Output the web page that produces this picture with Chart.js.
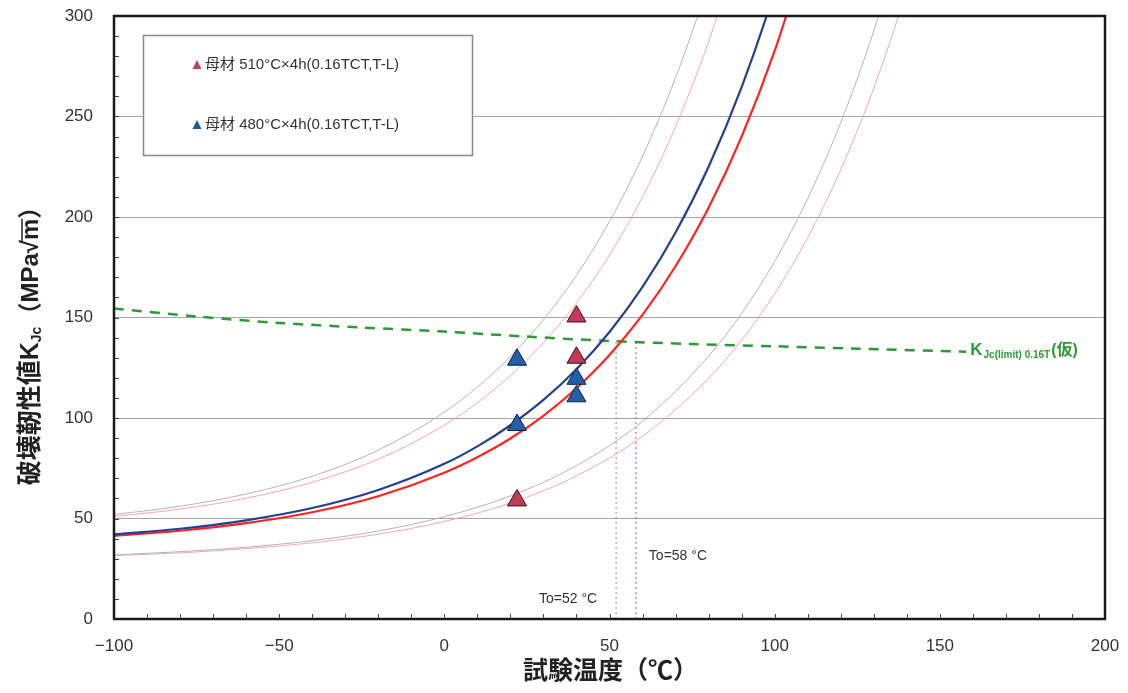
<!DOCTYPE html>
<html>
<head>
<meta charset="utf-8">
<script src="https://cdn.jsdelivr.net/npm/chart.js@4.4.0/dist/chart.umd.min.js"></script>
<style>
  html, body { margin: 0; padding: 0; background: #fff; }
  #wrap { width: 1128px; height: 693px; }
</style>
</head>
<body>
<div id="wrap"><canvas id="myChart" width="1128" height="693"></canvas></div>
<script>
// axis ticks
var xTicks = [-100, -50, 0, 50, 100, 150, 200];
var yTicks = [0, 50, 100, 150, 200, 250, 300];

// master curves (median)
var tMed = [-100, -80, -60, -40, -20, 0, 10, 20, 30, 40, 50, 60, 70, 80, 90, 100, 110];
var kMed480 = [42.1, 44.9, 49.1, 55.2, 64.2, 77.2, 85.9, 96.4, 109.0, 124.3, 142.8, 165.2, 192.3, 225.0, 264.6, 312.5, 370];
var kMed510 = [41.4, 43.9, 47.7, 53.1, 61.1, 72.8, 80.5, 89.8, 101.1, 114.8, 131.3, 151.3, 175.5, 204.6, 239.9, 282.6, 334.2];

// upper bounds
var tUp = [-100, -80, -60, -40, -20, 0, 10, 20, 30, 40, 50, 60, 70, 80, 90];
var kUp480 = [52.0, 56.1, 62.2, 71.0, 84.0, 102.9, 115.4, 130.6, 148.9, 171.0, 197.8, 230.2, 269.4, 316.7, 374];
var kUp510 = [51.0, 54.7, 60.1, 68.0, 79.5, 96.4, 107.6, 121.1, 137.5, 157.2, 181.1, 210.0, 245.0, 287.2, 338.3];

// lower bounds
var tLo = [-100, -80, -60, -40, -20, 0, 20, 40, 60, 80, 90, 100, 110, 120, 130, 140, 150];
var kLo480 = [31.9, 33.5, 35.7, 39.0, 43.8, 50.9, 61.2, 76.3, 98.4, 130.7, 152.1, 177.9, 209.2, 247.0, 292.6, 348.0, 415];
var kLo510 = [31.6, 32.9, 35.0, 37.9, 42.2, 48.5, 57.7, 71.2, 90.9, 119.7, 138.8, 161.8, 189.7, 223.4, 264.1, 313.4, 373];

// KJc(limit) 0.16T
var tLimit = [-100, -75, -50, -25, 0, 25, 50, 75, 100, 125, 158];
var kLimit = [154.5, 150.5, 147.3, 145, 143, 140.5, 138.3, 136.8, 135.7, 134.5, 133];

// test results
var t510 = [22, 40, 40];
var k510 = [59, 130, 150.5];
var t480 = [22, 22, 40, 40];
var k480 = [96.5, 129, 119.5, 110.8];

// reference temperatures
var toTemps = [52, 58];
var toTop = [138.2, 137.8];

var labels = ['母材 510°C×4h(0.16TCT,T-L)', '母材 480°C×4h(0.16TCT,T-L)'];

function pts(xs, ys) {
    return xs.map(function(x, i) { return {x: x, y: ys[i]}; });
}

function curve(xs, ys, color, width, order) {
    return {
        data: pts(xs, ys),
        borderColor: color,
        borderWidth: width,
        pointRadius: 0,
        fill: false,
        cubicInterpolationMode: 'monotone',
        order: order
    };
}

var sansJP = "'Liberation Sans', 'Noto Sans CJK JP', sans-serif";

var decor = {
    id: 'decor',
    afterDraw: function(chart) {
        var c = chart.ctx;
        var a = chart.chartArea;
        var xs = chart.scales.x, ys = chart.scales.y;
        c.save();

        // small ticks inside the frame
        c.strokeStyle = '#444';
        c.lineWidth = 1;
        c.beginPath();
        for (var v = -90; v < 200; v += 10) {
            var px = Math.round(xs.getPixelForValue(v)) + 0.5;
            c.moveTo(px, a.bottom);
            c.lineTo(px, a.bottom - 5);
        }
        for (var w = 10; w < 300; w += 10) {
            var py = Math.round(ys.getPixelForValue(w)) + 0.5;
            c.moveTo(a.left, py);
            c.lineTo(a.left + 5, py);
        }
        c.stroke();

        // frame
        c.strokeStyle = '#1a1a1a';
        c.lineWidth = 2.5;
        c.strokeRect(a.left, a.top, a.right - a.left, a.bottom - a.top);

        // legend box
        c.fillStyle = '#fff';
        c.fillRect(143, 35, 329, 120);
        c.strokeStyle = '#8a8a8a';
        c.lineWidth = 1.5;
        c.strokeRect(143.5, 35.5, 329, 120);
        var legCols = ['#c0405e', '#1f5a8a'];
        [65, 125].forEach(function(ly, i) {
            c.fillStyle = legCols[i];
            c.beginPath();
            c.moveTo(197, ly - 5);
            c.lineTo(201.5, ly + 4);
            c.lineTo(192.5, ly + 4);
            c.closePath();
            c.fill();
            c.fillStyle = '#333';
            c.font = '15px ' + sansJP;
            c.textBaseline = 'middle';
            c.textAlign = 'left';
            c.fillText(labels[i], 205, ly);
        });

        // To labels
        c.fillStyle = '#333';
        c.font = '14px ' + sansJP;
        c.textAlign = 'center';
        c.fillText('To=52 °C', xs.getPixelForValue(toTemps[0]) - 48, 599);
        c.fillText('To=58 °C', xs.getPixelForValue(toTemps[1]) + 42, 556);

        // KJc(limit) label
        var gx = xs.getPixelForValue(tLimit[tLimit.length - 1]) + 4;
        var gy = ys.getPixelForValue(kLimit[kLimit.length - 1]) - 1;
        c.fillStyle = '#2e9a35';
        c.textAlign = 'left';
        c.font = 'bold 17px ' + sansJP;
        c.fillText('K', gx, gy);
        gx += c.measureText('K').width + 1;
        c.font = 'bold 10px ' + sansJP;
        c.fillText('Jc(limit) 0.16T', gx, gy + 5);
        gx += c.measureText('Jc(limit) 0.16T').width + 1;
        c.font = 'bold 16px ' + sansJP;
        c.fillText('(仮)', gx, gy);

        // x axis title
        c.fillStyle = '#222';
        c.font = 'bold 25px ' + sansJP;
        c.textAlign = 'center';
        c.fillText('試験温度（℃）', (a.left + a.right) / 2 + 1, 672);

        // y axis title
        c.translate(31, 340);
        c.rotate(-Math.PI / 2);
        var parts = [
            ['破壊靭性値K', 'bold 25px ', 0],
            ['Jc', 'bold 14px ', 6],
            ['（MPa√', 'bold 24px ', 0],
            ['m）', 'bold 24px ', 0]
        ];
        var total = 0;
        parts.forEach(function(p) { c.font = p[1] + sansJP; total += c.measureText(p[0]).width; });
        var tx = -total / 2;
        c.textAlign = 'left';
        parts.forEach(function(p, i) {
            c.font = p[1] + sansJP;
            var wd = c.measureText(p[0]).width;
            c.fillText(p[0], tx, p[2]);
            if (i === 3) {
                var mw = c.measureText('m').width;
                c.lineWidth = 1.5;
                c.strokeStyle = '#222';
                c.beginPath();
                c.moveTo(tx - 2, -9);
                c.lineTo(tx + mw, -9);
                c.stroke();
            }
            tx += wd;
        });
        c.restore();
    }
};

var ctx = document.getElementById('myChart').getContext('2d');
var chart = new Chart(ctx, {
    type: 'line',
    data: {
        datasets: [
            {
                label: labels[0],
                type: 'scatter',
                data: pts(t510, k510),
                pointStyle: 'triangle',
                pointRadius: 11,
                backgroundColor: '#c23a58',
                borderColor: '#3a1020',
                borderWidth: 1,
                order: 0
            },
            {
                label: labels[1],
                type: 'scatter',
                data: pts(t480, k480),
                pointStyle: 'triangle',
                pointRadius: 11,
                backgroundColor: '#2060a8',
                borderColor: '#0c2040',
                borderWidth: 1,
                order: 0
            },
            curve(tMed, kMed480, '#23418e', 2.2, 2),
            curve(tMed, kMed510, '#ff2222', 2.2, 2),
            curve(tUp, kUp480, '#b4b4b4', 1, 4),
            curve(tUp, kUp510, '#f4a6b6', 1, 4),
            curve(tLo, kLo480, '#b4b4b4', 1, 4),
            curve(tLo, kLo510, '#f4a6b6', 1, 4),
            {
                data: pts(tLimit, kLimit),
                borderColor: '#2e9a35',
                borderWidth: 2.5,
                borderDash: [10, 8],
                pointRadius: 0,
                fill: false,
                tension: 0.3,
                order: 3
            },
            {
                data: pts([toTemps[0], toTemps[0]], [0, toTop[0]]),
                borderColor: '#8a8a9a',
                borderWidth: 1,
                borderDash: [2, 3],
                pointRadius: 0,
                order: 5
            },
            {
                data: pts([toTemps[1], toTemps[1]], [0, toTop[1]]),
                borderColor: '#e8607a',
                borderWidth: 1.2,
                borderDash: [2, 3],
                pointRadius: 0,
                order: 5
            }
        ]
    },
    options: {
        responsive: false,
        animation: false,
        layout: { padding: { top: 16, right: 23, left: 0, bottom: 0 } },
        plugins: {
            legend: { display: false },
            tooltip: { enabled: false }
        },
        scales: {
            x: {
                type: 'linear',
                min: -100,
                max: 200,
                afterFit: function(s) { s.height = 74; s.paddingLeft = 0; s.paddingRight = 0; },
                afterBuildTicks: function(s) { s.ticks = xTicks.map(function(v) { return {value: v}; }); },
                ticks: {
                    padding: 9,
                    maxRotation: 0,
                    color: '#333',
                    font: { family: 'Liberation Sans', size: 17 },
                    callback: function(v) { return v < 0 ? '−' + Math.abs(v) : '' + v; }
                },
                grid: { display: false },
                border: { display: false }
            },
            y: {
                min: 0,
                max: 300,
                afterFit: function(s) { s.width = 114; s.paddingTop = 0; s.paddingBottom = 0; },
                afterBuildTicks: function(s) { s.ticks = yTicks.map(function(v) { return {value: v}; }); },
                ticks: {
                    padding: 21,
                    color: '#333',
                    font: { family: 'Liberation Sans', size: 17 }
                },
                grid: {
                    drawTicks: false,
                    color: function(c) { return (c.tick && c.tick.value > 0 && c.tick.value < 300) ? '#a4a4a4' : 'rgba(0,0,0,0)'; },
                    lineWidth: 1
                },
                border: { display: false }
            }
        }
    },
    plugins: [decor]
});
</script>
</body>
</html>
